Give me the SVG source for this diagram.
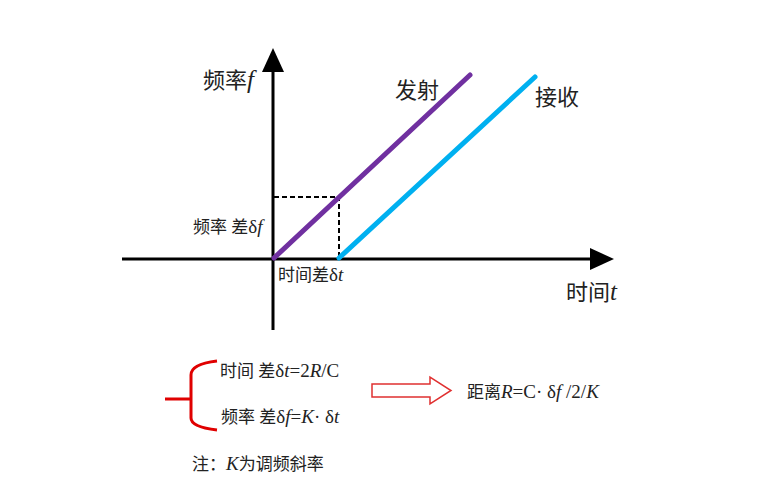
<svg xmlns="http://www.w3.org/2000/svg" width="784" height="493" viewBox="0 0 784 493">
<style>
text{font-family:"Liberation Serif","Noto Sans CJK SC",serif;fill:#222;}
.big{font-size:22px;}
.big .l{font-size:25px;}
.sm{font-size:17px;}
.sm .l{font-size:19px;}
.i{font-style:italic;}
.axis{stroke:#000;stroke-width:3;fill:none;}
.dash{stroke:#000;stroke-width:2;stroke-dasharray:5,3;fill:none;}
</style>
<rect width="784" height="493" fill="#fff"/>
<g id="connectors">
<line class="axis" x1="122" y1="259" x2="596" y2="259"/>
<path d="M590,248 L614,259 L590,270 Z" fill="#000"/>
<line class="axis" x1="273" y1="330" x2="273" y2="68"/>
<path d="M262,72 L273,48 L284,72 Z" fill="#000"/>
<polyline class="dash" points="274,197 339,197 339,259"/>
<line x1="274" y1="258" x2="470" y2="75" stroke="#7030A0" stroke-width="5" stroke-linecap="round"/>
<line x1="339" y1="258" x2="535" y2="77" stroke="#00B0F0" stroke-width="5" stroke-linecap="round"/>
<path d="M165,399 L191,399 M217,361 Q191,364 191,375 L191,418 Q191,427 217,430" stroke="#E00000" stroke-width="3" fill="none"/>
<path d="M372,384 L430,384 L430,377 L451,390.5 L430,404 L430,397 L372,397 Z" fill="#fff" stroke="#E03030" stroke-width="1.5"/>
</g>
<g id="labels">
<text class="big" x="203" y="88">频率<tspan class="l i">f</tspan></text>
<text class="big" x="395" y="98">发射</text>
<text class="big" x="535" y="105">接收</text>
<text class="sm" x="193" y="233">频率 差<tspan class="l">δ<tspan class="i">f</tspan></tspan></text>
<text class="sm" x="278" y="281">时间差<tspan class="l">δ<tspan class="i">t</tspan></tspan></text>
<text class="big" x="566" y="300">时间<tspan class="l i">t</tspan></text>
<text class="sm" x="220" y="377">时间 差<tspan class="l">δ<tspan class="i">t</tspan>=2<tspan class="i">R</tspan>/C</tspan></text>
<text class="sm" x="221" y="423">频率 差<tspan class="l">δ<tspan class="i">f</tspan>=<tspan class="i">K</tspan>· δ<tspan class="i">t</tspan></tspan></text>
<text class="sm" x="467" y="398">距离<tspan class="l"><tspan class="i">R</tspan>=C· δ<tspan class="i">f</tspan> /2/<tspan class="i">K</tspan></tspan></text>
<text class="sm" x="192" y="470">注：<tspan class="l i">K</tspan>为调频斜率</text>
</g>
</svg>
